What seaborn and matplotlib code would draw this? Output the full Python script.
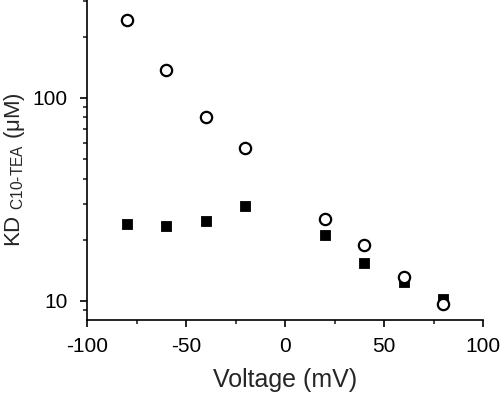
import numpy as np
import pandas as pd
import matplotlib
matplotlib.use('Agg')
import matplotlib.pyplot as plt
import matplotlib.ticker as mticker
import seaborn as sns

# values
voltage = [-80, -60, -40, -20, 20, 40, 60, 80]
kd_open = [242, 137, 80, 56.8, 25.2, 18.8, 13.1, 9.7]
kd_filled = [23.9, 23.3, 24.6, 29.4, 21.1, 15.4, 12.4, 10.2]

sns.set_style('ticks')
plt.rcParams['font.family'] = ['Liberation Sans', 'DejaVu Sans']
plt.rcParams['mathtext.fontset'] = 'custom'
plt.rcParams['mathtext.rm'] = 'Liberation Sans'
plt.rcParams['axes.unicode_minus'] = False

df_sq = pd.DataFrame({'Voltage': voltage, 'KD': kd_filled})
df_ci = pd.DataFrame({'Voltage': voltage, 'KD': kd_open})

fig = plt.figure(figsize=(5, 3.97), dpi=100)
ax = fig.add_axes([0.174, 0.194, 0.792, 0.806])

sns.scatterplot(data=df_sq, x='Voltage', y='KD', ax=ax, marker='s', s=48,
                color='black', edgecolor='black', linewidth=0.6, zorder=3)
sns.scatterplot(data=df_ci, x='Voltage', y='KD', ax=ax, marker='o', s=66,
                facecolor='white', edgecolor='black', linewidth=1.6, zorder=4)

ax.set_yscale('log')
ax.set_xlim(-100, 100)
ax.set_ylim(8.05, 303)
ax.xaxis.set_major_locator(mticker.MultipleLocator(50))
ax.xaxis.set_minor_locator(mticker.MultipleLocator(25))
ax.yaxis.set_major_locator(mticker.LogLocator(base=10, numticks=5))
ax.yaxis.set_major_formatter(mticker.FuncFormatter(lambda v, p: f'{v:g}'))
ax.yaxis.set_minor_locator(mticker.LogLocator(base=10, subs=np.arange(2, 10), numticks=10))
ax.yaxis.set_minor_formatter(mticker.NullFormatter())

ax.tick_params(axis='both', which='major', labelsize=15, length=5, width=1.2,
               direction='out', colors='black', pad=7)
ax.tick_params(axis='y', which='major', pad=9)
ax.tick_params(axis='both', which='minor', length=3, width=1.2, direction='out')
for s in ['left', 'bottom']:
    ax.spines[s].set_linewidth(1.2)
    ax.spines[s].set_color('black')
sns.despine(ax=ax)

ax.set_xlabel('Voltage (mV)', fontsize=18, labelpad=9)
ax.set_ylabel(r'KD $_{\mathregular{C10\text{-}TEA}}$ (μM)', fontsize=16, labelpad=4)
ax.yaxis.label.set_y(0.47)

fig.savefig('out.png', dpi=100)
